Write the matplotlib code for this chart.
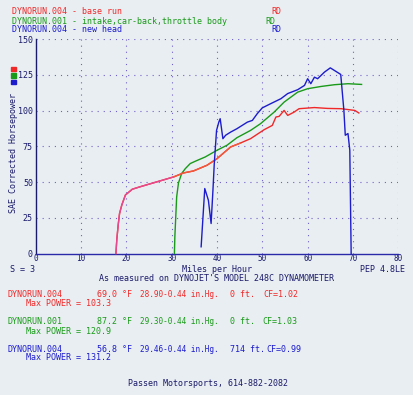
import matplotlib
matplotlib.use("Agg")
import matplotlib.pyplot as plt
import numpy as np

# ---- data ----
red_mph = [17.7, 17.9, 18.2, 18.5, 19.0, 19.8, 21.3, 23.0, 30.4, 32.6, 34.8, 37.8, 40.0, 43.0, 45.2,
           47.4, 50.4, 52.2, 53.0, 53.7, 54.8, 55.6, 57.0, 58.1, 61.5, 64.4, 67.4, 70.4, 71.3]
red_hp = [0, 10, 20, 28, 34, 41, 45, 46.7, 53.6, 56.4, 57.8, 61.8, 66.4, 74.6, 77.4,
          80.4, 86.7, 89.7, 95.6, 96.0, 100.2, 96.7, 99.0, 101.4, 102.2, 101.6, 101.4, 100.2, 98.4]

green_mph = [30.6, 30.7, 31.1, 31.5, 32.2, 33.0, 34.1, 35.2, 37.4, 40.0, 42.2, 44.4, 47.4, 49.6,
             52.6, 54.8, 57.8, 60.0, 63.0, 65.9, 68.9, 71.9]
green_hp = [0, 11.7, 39.6, 49.4, 56.0, 59.4, 63.0, 64.6, 67.6, 72.3, 75.8, 81.1, 86.2, 90.9,
            99.0, 106.0, 113.0, 115.4, 117.0, 118.2, 118.9, 118.4]

blue_mph = [36.5, 37.3, 38.1, 38.7, 39.1, 39.4, 39.9, 40.4, 40.7, 41.3, 41.9, 43.0, 44.4, 46.7,
            47.8, 48.9, 50.0, 51.9, 54.1, 55.6, 57.8, 59.3, 60.0, 60.7, 61.5, 62.2, 63.7, 65.0,
            65.9, 67.3, 68.0, 68.3, 68.9, 69.3, 69.6]
blue_hp = [4.7, 45.5, 37.3, 21.0, 44.0, 63.0, 86.2, 92.0, 94.4, 80.4, 82.8, 85.0, 87.4, 92.0,
           93.2, 98.0, 102.0, 105.0, 108.4, 112.0, 114.7, 117.7, 122.4, 118.9, 123.5, 122.4, 127.0, 130.0,
           128.2, 125.4, 100.0, 82.8, 84.0, 72.3, 0]

x_ticks = [0, 10, 20, 30, 40, 50, 60, 70, 80]
y_ticks = [0, 25, 50, 75, 100, 125, 150]

runs = ["DYNORUN.004", "DYNORUN.001", "DYNORUN.004"]
run_desc = ["base run", "intake,car-back,throttle body", "new head"]
temps = ["69.0 \u00b0F", "87.2 \u00b0F", "56.8 \u00b0F"]
baro = ["28.90-0.44 in.Hg.", "29.30-0.44 in.Hg.", "29.46-0.44 in.Hg."]
alt = ["0 ft.", "0 ft.", "714 ft."]
cf = ["CF=1.02", "CF=1.03", "CF=0.99"]
max_power = ["103.3", "120.9", "131.2"]

# ---- style ----
W, H = 414, 395
RED, GREEN, BLUE = "#f02828", "#199a19", "#1c1ccc"
NAVY = "#1a1a6a"
BG = "#e9eef2"
FONT = "DejaVu Sans Mono"
FS = 6

fig = plt.figure(figsize=(W / 100, H / 100), dpi=100, facecolor=BG)

def px(x, y):
    return x / W, 1 - y / H

x0, x1 = 35.7, 398.3
y0, ytop = 253.5, 39.3
ax = fig.add_axes([x0 / W, 1 - y0 / H, (x1 - x0) / W, (y0 - ytop) / H])
ax.set_facecolor(BG)
ax.set_xlim(0, 80)
ax.set_ylim(0, 150)
for s in ["top", "right"]:
    ax.spines[s].set_visible(False)
ax.spines["left"].set_color(NAVY)
ax.spines["bottom"].set_color("#2a2aa8")
ax.spines["left"].set_linewidth(1.0)
ax.spines["bottom"].set_linewidth(1.0)
ax.set_xticks(x_ticks)
ax.set_yticks(y_ticks)
ax.tick_params(axis="y", length=0, labelsize=FS, colors=NAVY, pad=2)
ax.tick_params(axis="x", length=0, labelsize=5.5, colors=NAVY, pad=0.5)
for lab in ax.get_xticklabels() + ax.get_yticklabels():
    lab.set_family(FONT)

for x in x_ticks[1:]:
    ax.axvline(x, color="#7060c8", lw=0.8, ls=(0, (1, 4.5)), zorder=0)
for y in y_ticks[1:]:
    ax.axhline(y, color="#7060c8", lw=0.8, ls=(0, (1, 4.5)), zorder=0)

ax.plot(green_mph, green_hp, color=GREEN, lw=1.0, clip_on=False, zorder=3)
ax.plot(red_mph, red_hp, color=RED, lw=1.0, clip_on=False, zorder=3)
# tint of the lower part of the base run trace
ax.plot(red_mph[:9], red_hp[:9], color="#e8488e", lw=1.0, clip_on=False, zorder=3)
ax.plot(red_mph[8:15], red_hp[8:15], color="#f25a3a", lw=1.0, clip_on=False, zorder=3)
ax.plot(blue_mph, blue_hp, color=BLUE, lw=1.0, clip_on=False, zorder=4)

def t(x, y, s, c, ha="left", fs=FS, **kw):
    fig.text(*px(x, y), s, color=c, fontsize=fs, family=FONT, ha=ha, va="center", **kw)

cols = [RED, GREEN, BLUE]
rd_x = [271, 265, 271]
for i in range(3):
    t(12, 12 + 9 * i, f"{runs[i]} - {run_desc[i]}", cols[i])
    t(rd_x[i], 12 + 9 * i, "RD", cols[i])

# legend squares
for i, c in enumerate(cols):
    fig.patches.append(plt.Rectangle(px(11.5, 71 + 6.5 * i), 5 / W, 4 / H,
                                     transform=fig.transFigure, color=c, figure=fig))

fig.text(*px(14, 153), "SAE Corrected Horsepower", color=NAVY, fontsize=FS, family=FONT,
         rotation=90, ha="center", va="center")

t(10, 269, "S = 3", NAVY)
t(217, 269, "Miles per Hour", NAVY, ha="center")
t(405, 269, "PEP 4.8LE", NAVY, ha="right")
t(217, 278.5, "As measured on DYNOJET'S MODEL 248C DYNAMOMETER", NAVY, ha="center")

ys = [294.5, 322, 349]
cf_x = [263, 262, 266.5]
for i in range(3):
    y = ys[i]
    t(7.5, y, runs[i], cols[i])
    t(97, y, temps[i], cols[i])
    t(140, y, baro[i], cols[i], fs=5.5)
    t(230, y, alt[i], cols[i])
    t(cf_x[i], y, cf[i], cols[i])
    t(26, y + 9, f"Max POWER = {max_power[i]}", cols[i])

t(208, 384, "Passen Motorsports, 614-882-2082", NAVY, ha="center")

fig.savefig("out.png", dpi=100, facecolor=BG)
